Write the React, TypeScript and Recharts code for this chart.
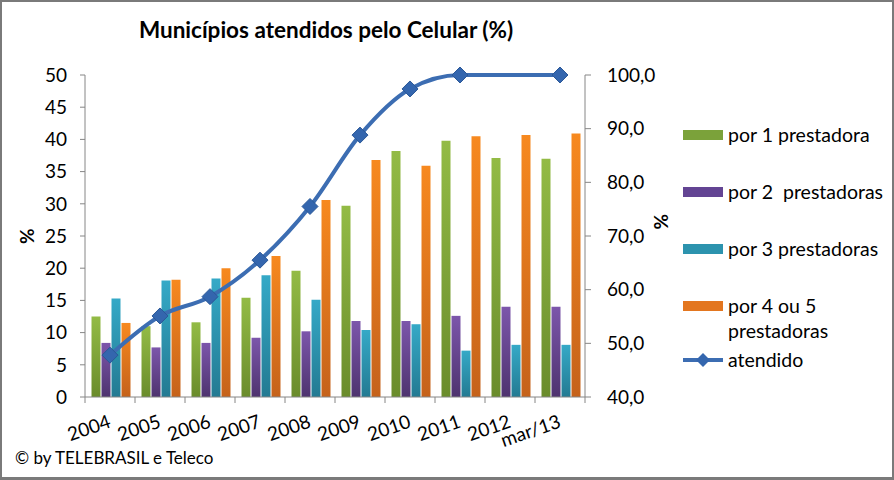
import React from 'react';
import { ComposedChart, Bar, Line, XAxis, YAxis } from 'recharts';

const categories = ['2004', '2005', '2006', '2007', '2008', '2009', '2010', '2011', '2012', 'mar/13'];
const por1 = [12.5, 11.0, 11.6, 15.4, 19.6, 29.7, 38.2, 39.8, 37.1, 37.0];
const por2 = [8.4, 7.7, 8.4, 9.2, 10.2, 11.8, 11.8, 12.6, 14.0, 14.0];
const por3 = [15.3, 18.1, 18.4, 18.9, 15.1, 10.4, 11.3, 7.2, 8.1, 8.1];
const por45 = [11.5, 18.2, 20.0, 21.9, 30.6, 36.8, 35.9, 40.5, 40.7, 40.9];
const atendido: (number | null)[] = [47.8, 55.1, 58.7, 65.5, 75.5, 88.8, 97.4, 100.0, null, 100.0];

const leftTicks = [0, 5, 10, 15, 20, 25, 30, 35, 40, 45, 50];
const rightTicks = [40, 50, 60, 70, 80, 90, 100];

const seriesNames = ['por 1 prestadora', 'por 2  prestadoras', 'por 3 prestadoras', 'por 4 ou 5 prestadoras', 'atendido'];

const data = categories.map((c, i) => ({
  name: c,
  por1: por1[i],
  por2: por2[i],
  por3: por3[i],
  por45: por45[i],
  atendido: atendido[i],
}));

const FONT = 'Lato, "Open Sans", sans-serif';
const AXIS = '#868686';

const gradients = [
  { id: 'gGreen', top: '#93bb45', bottom: '#6a8c2c' },
  { id: 'gPurple', top: '#7c56ab', bottom: '#4e336f' },
  { id: 'gTeal', top: '#35a9c7', bottom: '#237a92' },
  { id: 'gOrange', top: '#f7891f', bottom: '#c5621b' },
];

const XTick = (props: any) => {
  const { x, y, payload, index } = props;
  const half = payload && payload.offset ? payload.offset : 25;
  const last = index === categories.length - 1;
  return (
    <g>
      <line x1={x - half} y1={y} x2={x - half} y2={y + 6} stroke={AXIS} />
      {last && <line x1={x + half} y1={y} x2={x + half} y2={y + 6} stroke={AXIS} />}
      <text
        x={x + 2}
        y={y + 30}
        textAnchor="end"
        transform={`rotate(-19, ${x + 2}, ${y + 30})`}
        fontSize={19}
        fontFamily={FONT}
        fill="#000"
      >
        {payload.value}
      </text>
    </g>
  );
};

const Diamond = (props: any) => {
  const { cx, cy, value } = props;
  if (value == null || cx == null || cy == null) return <g />;
  const r = 8;
  return (
    <polygon
      points={`${cx},${cy - r} ${cx + r},${cy} ${cx},${cy + r} ${cx - r},${cy}`}
      fill="#3466ae"
      stroke="#2a5898"
      strokeWidth={1}
    />
  );
};

const legendColors = ['#7ba23a', '#634493', '#2c93ae', '#e3761f'];

const Legend = () => (
  <div style={{ position: 'absolute', left: 681, top: 0, fontFamily: FONT, fontSize: 19.5, color: '#000' }}>
    {seriesNames.slice(0, 4).map((n, i) => {
      const tops = [120, 177, 234, 291];
      const lines = i === 3 ? ['por 4 ou 5', 'prestadoras'] : [n];
      return (
        <div key={n} style={{ position: 'absolute', top: tops[i], left: 0, display: 'flex', whiteSpace: 'pre' }}>
          <div style={{ width: 40, height: 10, marginTop: 8, background: legendColors[i] }} />
          <div style={{ marginLeft: 5, lineHeight: '25px' }}>
            {lines.map((l) => (
              <div key={l}>{l}</div>
            ))}
          </div>
        </div>
      );
    })}
    <div style={{ position: 'absolute', top: 346, left: 0, display: 'flex', whiteSpace: 'pre' }}>
      <svg width={40} height={24}>
        <line x1={0} y1={12} x2={40} y2={12} stroke="#3c6db2" strokeWidth={4} />
        <polygon points="20,5 27,12 20,19 13,12" fill="#3466ae" />
      </svg>
      <div style={{ marginLeft: 5, lineHeight: '24px' }}>{seriesNames[4]}</div>
    </div>
  </div>
);

export default function App() {
  return (
    <>
      <style>{'body{margin:0}'}</style>
      <div
        style={{
          position: 'relative',
          width: 894,
          height: 480,
          boxSizing: 'border-box',
          border: '2px solid #7a7a7a',
          borderBottomWidth: 3,
          background: '#fff',
          overflow: 'hidden',
        }}
      >
        <div
          style={{
            position: 'absolute',
            left: 0,
            width: 648,
            top: 14,
            textAlign: 'center',
            fontFamily: FONT,
            fontWeight: 700,
            fontSize: 22.5,
            color: '#000',
          }}
        >
          Municípios atendidos pelo Celular (%)
        </div>
        <div style={{ position: 'absolute', left: -2, top: -2 }}>
          <ComposedChart
            width={894}
            height={480}
            data={data}
            margin={{ top: 75, right: 229, bottom: 23, left: 25 }}
            barCategoryGap="13%"
            barGap={1}
          >
            <defs>
              {gradients.map((g) => (
                <linearGradient key={g.id} id={g.id} x1="0" y1="0" x2="0" y2="1">
                  <stop offset="0%" stopColor={g.top} />
                  <stop offset="100%" stopColor={g.bottom} />
                </linearGradient>
              ))}
            </defs>
            <XAxis
              dataKey="name"
              xAxisId="x"
              height={60}
              tickSize={0}
              tickMargin={0}
              tickLine={false}
              interval={0}
              stroke={AXIS}
              tick={<XTick />}
            />
            <YAxis
              yAxisId="left"
              orientation="left"
              width={60}
              domain={[0, 50]}
              ticks={leftTicks}
              interval={0}
              stroke={AXIS}
              tickSize={5}
              tickMargin={13}
              tick={{ fontSize: 19, fontFamily: FONT, fill: '#000' }}
              label={{ value: '%', angle: -90, position: 'insideLeft', offset: 2, fontSize: 19, fontWeight: 700, fontFamily: FONT, fill: '#000', dy: 8 }}
            />
            <YAxis
              yAxisId="right"
              orientation="right"
              width={80}
              domain={[40, 100]}
              ticks={rightTicks}
              interval={0}
              stroke={AXIS}
              tickSize={6}
              tickMargin={16}
              tickFormatter={(v: number) => v.toFixed(1).replace('.', ',')}
              tick={{ fontSize: 19, fontFamily: FONT, fill: '#000', textAnchor: 'start' }}
              label={{ value: '%', angle: -90, position: 'insideRight', offset: 4, fontSize: 19, fontWeight: 700, fontFamily: FONT, fill: '#000', dy: -22 }}
            />
            <Bar xAxisId="x" yAxisId="left" dataKey="por1" name={seriesNames[0]} fill="url(#gGreen)" isAnimationActive={false} />
            <Bar xAxisId="x" yAxisId="left" dataKey="por2" name={seriesNames[1]} fill="url(#gPurple)" isAnimationActive={false} />
            <Bar xAxisId="x" yAxisId="left" dataKey="por3" name={seriesNames[2]} fill="url(#gTeal)" isAnimationActive={false} />
            <Bar xAxisId="x" yAxisId="left" dataKey="por45" name={seriesNames[3]} fill="url(#gOrange)" isAnimationActive={false} />
            <Line
              xAxisId="x"
              yAxisId="right"
              type="monotone"
              dataKey="atendido"
              name={seriesNames[4]}
              stroke="#3c6db2"
              strokeWidth={4}
              connectNulls
              dot={<Diamond />}
              activeDot={false}
              isAnimationActive={false}
            />
          </ComposedChart>
        </div>
        <Legend />
        <div style={{ position: 'absolute', left: 13, top: 445, fontFamily: FONT, fontSize: 17, color: '#000' }}>
          © by TELEBRASIL e Teleco
        </div>
      </div>
    </>
  );
}
